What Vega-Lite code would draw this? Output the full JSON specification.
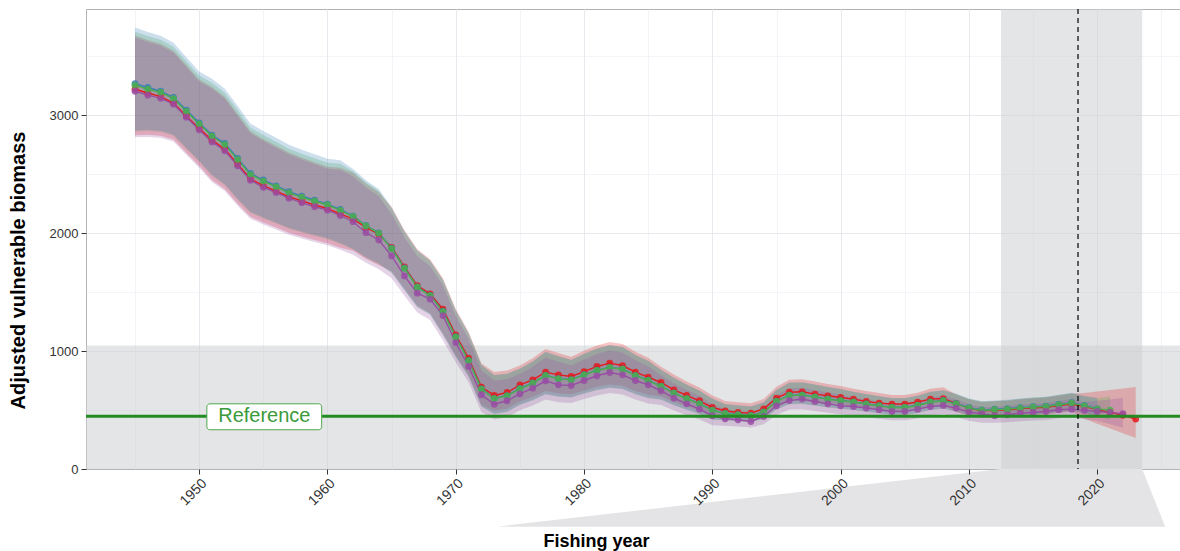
{
 "$schema": "https://vega.github.io/schema/vega-lite/v6.json",
 "width": 1094, "height": 460,
 "autosize": {"type": "none"},
 "padding": {"left": 86, "top": 9, "right": 0, "bottom": 82},
 "background": "white",
 "config": {"font": "Liberation Sans", "view": {"stroke": "#b3b3b3", "strokeWidth": 1}},
 "resolve": {"axis": {"x": "independent", "y": "independent"}},
 "datasets": {
  "d": [
{"yr":1945,"s":"R","m":3222,"lo":2831,"hi":3678},{"yr":1946,"s":"R","m":3190,"lo":2835,"hi":3640},{"yr":1947,"s":"R","m":3160,"lo":2827,"hi":3609},{"yr":1948,"s":"R","m":3105,"lo":2795,"hi":3549},{"yr":1949,"s":"R","m":2995,"lo":2683,"hi":3427},{"yr":1950,"s":"R","m":2890,"lo":2573,"hi":3305},{"yr":1951,"s":"R","m":2790,"lo":2453,"hi":3244},{"yr":1952,"s":"R","m":2715,"lo":2375,"hi":3159},{"yr":1953,"s":"R","m":2585,"lo":2251,"hi":3012},{"yr":1954,"s":"R","m":2462,"lo":2140,"hi":2865},{"yr":1955,"s":"R","m":2405,"lo":2092,"hi":2800},{"yr":1956,"s":"R","m":2358,"lo":2049,"hi":2743},{"yr":1957,"s":"R","m":2310,"lo":2005,"hi":2685},{"yr":1958,"s":"R","m":2275,"lo":1973,"hi":2642},{"yr":1959,"s":"R","m":2240,"lo":1944,"hi":2603},{"yr":1960,"s":"R","m":2210,"lo":1916,"hi":2565},{"yr":1961,"s":"R","m":2165,"lo":1877,"hi":2557},{"yr":1962,"s":"R","m":2120,"lo":1851,"hi":2514},{"yr":1963,"s":"R","m":2050,"lo":1782,"hi":2421},{"yr":1964,"s":"R","m":1992,"lo":1728,"hi":2348},{"yr":1965,"s":"R","m":1881,"lo":1679,"hi":2222},{"yr":1966,"s":"R","m":1715,"lo":1531,"hi":2025},{"yr":1967,"s":"R","m":1556,"lo":1387,"hi":1865},{"yr":1968,"s":"R","m":1486,"lo":1324,"hi":1780},{"yr":1969,"s":"R","m":1356,"lo":1151,"hi":1618},{"yr":1970,"s":"R","m":1138,"lo":966,"hi":1358},{"yr":1971,"s":"R","m":940,"lo":797,"hi":1165},{"yr":1972,"s":"R","m":695,"lo":544,"hi":896},{"yr":1973,"s":"R","m":624,"lo":494,"hi":823},{"yr":1974,"s":"R","m":649,"lo":512,"hi":835},{"yr":1975,"s":"R","m":714,"lo":572,"hi":878},{"yr":1976,"s":"R","m":757,"lo":611,"hi":939},{"yr":1977,"s":"R","m":822,"lo":662,"hi":1019},{"yr":1978,"s":"R","m":799,"lo":640,"hi":984},{"yr":1979,"s":"R","m":785,"lo":634,"hi":952},{"yr":1980,"s":"R","m":827,"lo":667,"hi":1003},{"yr":1981,"s":"R","m":870,"lo":697,"hi":1048},{"yr":1982,"s":"R","m":898,"lo":717,"hi":1078},{"yr":1983,"s":"R","m":878,"lo":706,"hi":1061},{"yr":1984,"s":"R","m":822,"lo":662,"hi":995},{"yr":1985,"s":"R","m":780,"lo":629,"hi":944},{"yr":1986,"s":"R","m":734,"lo":616,"hi":868},{"yr":1987,"s":"R","m":672,"lo":569,"hi":801},{"yr":1988,"s":"R","m":624,"lo":529,"hi":743},{"yr":1989,"s":"R","m":579,"lo":493,"hi":692},{"yr":1990,"s":"R","m":522,"lo":445,"hi":624},{"yr":1991,"s":"R","m":494,"lo":441,"hi":577},{"yr":1992,"s":"R","m":480,"lo":433,"hi":566},{"yr":1993,"s":"R","m":474,"lo":426,"hi":557},{"yr":1994,"s":"R","m":511,"lo":453,"hi":593},{"yr":1995,"s":"R","m":602,"lo":532,"hi":698},{"yr":1996,"s":"R","m":652,"lo":577,"hi":758},{"yr":1997,"s":"R","m":655,"lo":580,"hi":762},{"yr":1998,"s":"R","m":635,"lo":565,"hi":742},{"yr":1999,"s":"R","m":621,"lo":550,"hi":722},{"yr":2000,"s":"R","m":607,"lo":538,"hi":705},{"yr":2001,"s":"R","m":593,"lo":528,"hi":681},{"yr":2002,"s":"R","m":573,"lo":513,"hi":662},{"yr":2003,"s":"R","m":559,"lo":500,"hi":644},{"yr":2004,"s":"R","m":551,"lo":487,"hi":628},{"yr":2005,"s":"R","m":551,"lo":487,"hi":628},{"yr":2006,"s":"R","m":568,"lo":502,"hi":648},{"yr":2007,"s":"R","m":593,"lo":528,"hi":681},{"yr":2008,"s":"R","m":598,"lo":538,"hi":694},{"yr":2009,"s":"R","m":556,"lo":483,"hi":632},{"yr":2010,"s":"R","m":515,"lo":451,"hi":591},{"yr":2011,"s":"R","m":494,"lo":433,"hi":568},{"yr":2012,"s":"R","m":498,"lo":439,"hi":574},{"yr":2013,"s":"R","m":503,"lo":443,"hi":580},{"yr":2014,"s":"R","m":512,"lo":451,"hi":591},{"yr":2015,"s":"R","m":519,"lo":458,"hi":600},{"yr":2016,"s":"R","m":524,"lo":462,"hi":606},{"yr":2017,"s":"R","m":538,"lo":476,"hi":623},{"yr":2018,"s":"R","m":552,"lo":488,"hi":639},{"yr":2019,"s":"R","m":530,"lo":426,"hi":644},{"yr":2020,"s":"R","m":505,"lo":385,"hi":657},{"yr":2021,"s":"R","m":480,"lo":344,"hi":670},{"yr":2022,"s":"R","m":455,"lo":304,"hi":683},{"yr":2023,"s":"R","m":424,"lo":263,"hi":695},
{"yr":1945,"s":"B","m":3270,"lo":2874,"hi":3745},{"yr":1946,"s":"B","m":3237,"lo":2878,"hi":3707},{"yr":1947,"s":"B","m":3205,"lo":2870,"hi":3676},{"yr":1948,"s":"B","m":3152,"lo":2838,"hi":3616},{"yr":1949,"s":"B","m":3045,"lo":2726,"hi":3494},{"yr":1950,"s":"B","m":2937,"lo":2616,"hi":3372},{"yr":1951,"s":"B","m":2833,"lo":2496,"hi":3311},{"yr":1952,"s":"B","m":2763,"lo":2418,"hi":3226},{"yr":1953,"s":"B","m":2635,"lo":2294,"hi":3079},{"yr":1954,"s":"B","m":2508,"lo":2183,"hi":2932},{"yr":1955,"s":"B","m":2452,"lo":2135,"hi":2867},{"yr":1956,"s":"B","m":2403,"lo":2092,"hi":2810},{"yr":1957,"s":"B","m":2353,"lo":2048,"hi":2752},{"yr":1958,"s":"B","m":2316,"lo":2016,"hi":2709},{"yr":1959,"s":"B","m":2282,"lo":1987,"hi":2670},{"yr":1960,"s":"B","m":2248,"lo":1959,"hi":2632},{"yr":1961,"s":"B","m":2203,"lo":1920,"hi":2620},{"yr":1962,"s":"B","m":2146,"lo":1866,"hi":2545},{"yr":1963,"s":"B","m":2066,"lo":1797,"hi":2450},{"yr":1964,"s":"B","m":2004,"lo":1743,"hi":2375},{"yr":1965,"s":"B","m":1873,"lo":1667,"hi":2220},{"yr":1966,"s":"B","m":1706,"lo":1519,"hi":2020},{"yr":1967,"s":"B","m":1545,"lo":1375,"hi":1858},{"yr":1968,"s":"B","m":1474,"lo":1312,"hi":1772},{"yr":1969,"s":"B","m":1339,"lo":1139,"hi":1608},{"yr":1970,"s":"B","m":1122,"lo":954,"hi":1346},{"yr":1971,"s":"B","m":922,"lo":785,"hi":1153},{"yr":1972,"s":"B","m":680,"lo":532,"hi":884},{"yr":1973,"s":"B","m":600,"lo":469,"hi":798},{"yr":1974,"s":"B","m":623,"lo":487,"hi":810},{"yr":1975,"s":"B","m":683,"lo":547,"hi":853},{"yr":1976,"s":"B","m":731,"lo":586,"hi":914},{"yr":1977,"s":"B","m":795,"lo":637,"hi":994},{"yr":1978,"s":"B","m":767,"lo":615,"hi":959},{"yr":1979,"s":"B","m":759,"lo":609,"hi":927},{"yr":1980,"s":"B","m":801,"lo":642,"hi":978},{"yr":1981,"s":"B","m":838,"lo":672,"hi":1023},{"yr":1982,"s":"B","m":863,"lo":692,"hi":1053},{"yr":1983,"s":"B","m":849,"lo":681,"hi":1036},{"yr":1984,"s":"B","m":795,"lo":637,"hi":970},{"yr":1985,"s":"B","m":753,"lo":604,"hi":919},{"yr":1986,"s":"B","m":702,"lo":591,"hi":843},{"yr":1987,"s":"B","m":646,"lo":544,"hi":776},{"yr":1988,"s":"B","m":598,"lo":504,"hi":718},{"yr":1989,"s":"B","m":555,"lo":468,"hi":667},{"yr":1990,"s":"B","m":499,"lo":420,"hi":599},{"yr":1991,"s":"B","m":471,"lo":416,"hi":552},{"yr":1992,"s":"B","m":462,"lo":408,"hi":541},{"yr":1993,"s":"B","m":454,"lo":401,"hi":532},{"yr":1994,"s":"B","m":485,"lo":428,"hi":568},{"yr":1995,"s":"B","m":575,"lo":507,"hi":673},{"yr":1996,"s":"B","m":626,"lo":552,"hi":733},{"yr":1997,"s":"B","m":629,"lo":555,"hi":737},{"yr":1998,"s":"B","m":612,"lo":540,"hi":717},{"yr":1999,"s":"B","m":595,"lo":525,"hi":697},{"yr":2000,"s":"B","m":581,"lo":513,"hi":680},{"yr":2001,"s":"B","m":570,"lo":503,"hi":656},{"yr":2002,"s":"B","m":553,"lo":488,"hi":637},{"yr":2003,"s":"B","m":538,"lo":475,"hi":619},{"yr":2004,"s":"B","m":524,"lo":462,"hi":603},{"yr":2005,"s":"B","m":524,"lo":462,"hi":603},{"yr":2006,"s":"B","m":541,"lo":477,"hi":623},{"yr":2007,"s":"B","m":570,"lo":503,"hi":656},{"yr":2008,"s":"B","m":582,"lo":513,"hi":669},{"yr":2009,"s":"B","m":556,"lo":490,"hi":639},{"yr":2010,"s":"B","m":521,"lo":458,"hi":598},{"yr":2011,"s":"B","m":501,"lo":440,"hi":575},{"yr":2012,"s":"B","m":507,"lo":446,"hi":581},{"yr":2013,"s":"B","m":512,"lo":450,"hi":587},{"yr":2014,"s":"B","m":521,"lo":458,"hi":598},{"yr":2015,"s":"B","m":529,"lo":465,"hi":607},{"yr":2016,"s":"B","m":534,"lo":469,"hi":613},{"yr":2017,"s":"B","m":549,"lo":483,"hi":630},{"yr":2018,"s":"B","m":563,"lo":495,"hi":646},{"yr":2019,"s":"B","m":540,"lo":475,"hi":619},{"yr":2020,"s":"B","m":511,"lo":440,"hi":605},
{"yr":1945,"s":"G","m":3255,"lo":2864,"hi":3711},{"yr":1946,"s":"G","m":3222,"lo":2868,"hi":3673},{"yr":1947,"s":"G","m":3195,"lo":2860,"hi":3642},{"yr":1948,"s":"G","m":3142,"lo":2828,"hi":3582},{"yr":1949,"s":"G","m":3035,"lo":2716,"hi":3460},{"yr":1950,"s":"G","m":2928,"lo":2606,"hi":3338},{"yr":1951,"s":"G","m":2825,"lo":2486,"hi":3277},{"yr":1952,"s":"G","m":2752,"lo":2408,"hi":3192},{"yr":1953,"s":"G","m":2625,"lo":2284,"hi":3045},{"yr":1954,"s":"G","m":2498,"lo":2173,"hi":2898},{"yr":1955,"s":"G","m":2442,"lo":2125,"hi":2833},{"yr":1956,"s":"G","m":2393,"lo":2082,"hi":2776},{"yr":1957,"s":"G","m":2343,"lo":2038,"hi":2718},{"yr":1958,"s":"G","m":2306,"lo":2006,"hi":2675},{"yr":1959,"s":"G","m":2272,"lo":1977,"hi":2636},{"yr":1960,"s":"G","m":2240,"lo":1949,"hi":2598},{"yr":1961,"s":"G","m":2195,"lo":1910,"hi":2590},{"yr":1962,"s":"G","m":2141,"lo":1863,"hi":2526},{"yr":1963,"s":"G","m":2062,"lo":1794,"hi":2433},{"yr":1964,"s":"G","m":2000,"lo":1740,"hi":2360},{"yr":1965,"s":"G","m":1870,"lo":1664,"hi":2207},{"yr":1966,"s":"G","m":1703,"lo":1516,"hi":2010},{"yr":1967,"s":"G","m":1542,"lo":1372,"hi":1850},{"yr":1968,"s":"G","m":1471,"lo":1309,"hi":1765},{"yr":1969,"s":"G","m":1336,"lo":1136,"hi":1603},{"yr":1970,"s":"G","m":1119,"lo":951,"hi":1343},{"yr":1971,"s":"G","m":920,"lo":782,"hi":1150},{"yr":1972,"s":"G","m":678,"lo":529,"hi":881},{"yr":1973,"s":"G","m":598,"lo":466,"hi":795},{"yr":1974,"s":"G","m":621,"lo":484,"hi":807},{"yr":1975,"s":"G","m":680,"lo":544,"hi":850},{"yr":1976,"s":"G","m":729,"lo":583,"hi":911},{"yr":1977,"s":"G","m":793,"lo":634,"hi":991},{"yr":1978,"s":"G","m":765,"lo":612,"hi":956},{"yr":1979,"s":"G","m":757,"lo":606,"hi":924},{"yr":1980,"s":"G","m":799,"lo":639,"hi":975},{"yr":1981,"s":"G","m":836,"lo":669,"hi":1020},{"yr":1982,"s":"G","m":861,"lo":689,"hi":1050},{"yr":1983,"s":"G","m":847,"lo":678,"hi":1033},{"yr":1984,"s":"G","m":793,"lo":634,"hi":967},{"yr":1985,"s":"G","m":751,"lo":601,"hi":916},{"yr":1986,"s":"G","m":700,"lo":588,"hi":840},{"yr":1987,"s":"G","m":644,"lo":541,"hi":773},{"yr":1988,"s":"G","m":596,"lo":501,"hi":715},{"yr":1989,"s":"G","m":553,"lo":465,"hi":664},{"yr":1990,"s":"G","m":497,"lo":417,"hi":596},{"yr":1991,"s":"G","m":469,"lo":413,"hi":549},{"yr":1992,"s":"G","m":460,"lo":405,"hi":538},{"yr":1993,"s":"G","m":452,"lo":398,"hi":529},{"yr":1994,"s":"G","m":483,"lo":425,"hi":565},{"yr":1995,"s":"G","m":573,"lo":504,"hi":670},{"yr":1996,"s":"G","m":624,"lo":549,"hi":730},{"yr":1997,"s":"G","m":627,"lo":552,"hi":734},{"yr":1998,"s":"G","m":610,"lo":537,"hi":714},{"yr":1999,"s":"G","m":593,"lo":522,"hi":694},{"yr":2000,"s":"G","m":579,"lo":510,"hi":677},{"yr":2001,"s":"G","m":568,"lo":500,"hi":653},{"yr":2002,"s":"G","m":551,"lo":485,"hi":634},{"yr":2003,"s":"G","m":536,"lo":472,"hi":616},{"yr":2004,"s":"G","m":522,"lo":459,"hi":600},{"yr":2005,"s":"G","m":522,"lo":459,"hi":600},{"yr":2006,"s":"G","m":539,"lo":474,"hi":620},{"yr":2007,"s":"G","m":568,"lo":500,"hi":653},{"yr":2008,"s":"G","m":579,"lo":510,"hi":666},{"yr":2009,"s":"G","m":553,"lo":487,"hi":636},{"yr":2010,"s":"G","m":517,"lo":455,"hi":595},{"yr":2011,"s":"G","m":497,"lo":437,"hi":572},{"yr":2012,"s":"G","m":503,"lo":443,"hi":578},{"yr":2013,"s":"G","m":508,"lo":447,"hi":584},{"yr":2014,"s":"G","m":517,"lo":455,"hi":595},{"yr":2015,"s":"G","m":525,"lo":462,"hi":604},{"yr":2016,"s":"G","m":530,"lo":466,"hi":610},{"yr":2017,"s":"G","m":545,"lo":480,"hi":627},{"yr":2018,"s":"G","m":559,"lo":492,"hi":643},{"yr":2019,"s":"G","m":536,"lo":472,"hi":616},{"yr":2020,"s":"G","m":508,"lo":440,"hi":600},{"yr":2021,"s":"G","m":500,"lo":420,"hi":615},
{"yr":1945,"s":"P","m":3205,"lo":2814,"hi":3661},{"yr":1946,"s":"P","m":3172,"lo":2818,"hi":3623},{"yr":1947,"s":"P","m":3145,"lo":2810,"hi":3592},{"yr":1948,"s":"P","m":3095,"lo":2778,"hi":3532},{"yr":1949,"s":"P","m":2985,"lo":2666,"hi":3410},{"yr":1950,"s":"P","m":2878,"lo":2556,"hi":3288},{"yr":1951,"s":"P","m":2775,"lo":2436,"hi":3227},{"yr":1952,"s":"P","m":2700,"lo":2358,"hi":3142},{"yr":1953,"s":"P","m":2572,"lo":2234,"hi":2995},{"yr":1954,"s":"P","m":2450,"lo":2123,"hi":2848},{"yr":1955,"s":"P","m":2390,"lo":2075,"hi":2783},{"yr":1956,"s":"P","m":2345,"lo":2032,"hi":2726},{"yr":1957,"s":"P","m":2298,"lo":1988,"hi":2668},{"yr":1958,"s":"P","m":2260,"lo":1956,"hi":2625},{"yr":1959,"s":"P","m":2225,"lo":1927,"hi":2586},{"yr":1960,"s":"P","m":2196,"lo":1899,"hi":2548},{"yr":1961,"s":"P","m":2150,"lo":1860,"hi":2540},{"yr":1962,"s":"P","m":2098,"lo":1818,"hi":2481},{"yr":1963,"s":"P","m":2005,"lo":1749,"hi":2388},{"yr":1964,"s":"P","m":1943,"lo":1695,"hi":2315},{"yr":1965,"s":"P","m":1808,"lo":1619,"hi":2162},{"yr":1966,"s":"P","m":1638,"lo":1471,"hi":1965},{"yr":1967,"s":"P","m":1492,"lo":1327,"hi":1805},{"yr":1968,"s":"P","m":1441,"lo":1264,"hi":1720},{"yr":1969,"s":"P","m":1302,"lo":1091,"hi":1558},{"yr":1970,"s":"P","m":1073,"lo":906,"hi":1298},{"yr":1971,"s":"P","m":870,"lo":737,"hi":1105},{"yr":1972,"s":"P","m":630,"lo":484,"hi":836},{"yr":1973,"s":"P","m":549,"lo":421,"hi":750},{"yr":1974,"s":"P","m":579,"lo":439,"hi":762},{"yr":1975,"s":"P","m":638,"lo":499,"hi":805},{"yr":1976,"s":"P","m":686,"lo":538,"hi":866},{"yr":1977,"s":"P","m":748,"lo":589,"hi":946},{"yr":1978,"s":"P","m":714,"lo":567,"hi":911},{"yr":1979,"s":"P","m":708,"lo":561,"hi":879},{"yr":1980,"s":"P","m":751,"lo":594,"hi":930},{"yr":1981,"s":"P","m":791,"lo":624,"hi":975},{"yr":1982,"s":"P","m":819,"lo":644,"hi":1005},{"yr":1983,"s":"P","m":799,"lo":633,"hi":988},{"yr":1984,"s":"P","m":751,"lo":589,"hi":922},{"yr":1985,"s":"P","m":714,"lo":556,"hi":871},{"yr":1986,"s":"P","m":664,"lo":543,"hi":795},{"yr":1987,"s":"P","m":601,"lo":496,"hi":728},{"yr":1988,"s":"P","m":553,"lo":456,"hi":670},{"yr":1989,"s":"P","m":508,"lo":420,"hi":619},{"yr":1990,"s":"P","m":452,"lo":372,"hi":551},{"yr":1991,"s":"P","m":426,"lo":368,"hi":504},{"yr":1992,"s":"P","m":418,"lo":360,"hi":493},{"yr":1993,"s":"P","m":403,"lo":353,"hi":484},{"yr":1994,"s":"P","m":446,"lo":380,"hi":520},{"yr":1995,"s":"P","m":536,"lo":459,"hi":625},{"yr":1996,"s":"P","m":581,"lo":504,"hi":685},{"yr":1997,"s":"P","m":593,"lo":507,"hi":689},{"yr":1998,"s":"P","m":573,"lo":492,"hi":669},{"yr":1999,"s":"P","m":553,"lo":477,"hi":649},{"yr":2000,"s":"P","m":536,"lo":465,"hi":632},{"yr":2001,"s":"P","m":530,"lo":455,"hi":608},{"yr":2002,"s":"P","m":517,"lo":440,"hi":589},{"yr":2003,"s":"P","m":503,"lo":427,"hi":571},{"yr":2004,"s":"P","m":488,"lo":414,"hi":555},{"yr":2005,"s":"P","m":488,"lo":414,"hi":555},{"yr":2006,"s":"P","m":508,"lo":429,"hi":575},{"yr":2007,"s":"P","m":530,"lo":455,"hi":608},{"yr":2008,"s":"P","m":539,"lo":465,"hi":621},{"yr":2009,"s":"P","m":517,"lo":442,"hi":591},{"yr":2010,"s":"P","m":483,"lo":410,"hi":550},{"yr":2011,"s":"P","m":469,"lo":392,"hi":527},{"yr":2012,"s":"P","m":452,"lo":393,"hi":528},{"yr":2013,"s":"P","m":460,"lo":397,"hi":534},{"yr":2014,"s":"P","m":474,"lo":405,"hi":545},{"yr":2015,"s":"P","m":480,"lo":412,"hi":554},{"yr":2016,"s":"P","m":488,"lo":416,"hi":560},{"yr":2017,"s":"P","m":503,"lo":430,"hi":577},{"yr":2018,"s":"P","m":508,"lo":442,"hi":593},{"yr":2019,"s":"P","m":497,"lo":422,"hi":566},{"yr":2020,"s":"P","m":488,"lo":410,"hi":580},{"yr":2021,"s":"P","m":480,"lo":380,"hi":590},{"yr":2022,"s":"P","m":469,"lo":350,"hi":604}
  ],
  "trap": [
   {"tx": 1973.2, "tt": -489, "tb": -489},
   {"tx": 2012.5, "tt": 0, "tb": -489},
   {"tx": 2023.5, "tt": 0, "tb": -489},
   {"tx": 2025.3, "tt": -489, "tb": -489}
  ]
 },
 "layer": [
  {
   "data": {"name": "trap"},
   "mark": {"type": "area", "fill": "#e4e4e6", "clip": false, "opacity": 1},
   "encoding": {
    "x": {"field": "tx", "type": "quantitative", "scale": {"domain": [1941.18, 2026.45], "nice": false, "zero": false}, "axis": null},
    "y": {"field": "tt", "type": "quantitative", "scale": {"domain": [0, 3903], "nice": false, "zero": false}, "axis": null, "stack": null},
    "y2": {"field": "tb"}
   }
  },
  {
   "data": {"values": [{}]},
   "mark": {"type": "rect", "fill": "#cecfd2", "opacity": 0.55, "clip": true},
   "encoding": {
    "x": {"datum": 1930, "type": "quantitative",
     "axis": {"orient": "bottom", "values": [1945,1950,1955,1960,1965,1970,1975,1980,1985,1990,1995,2000,2005,2010,2015,2020,2025], "grid": true, "gridColor": "#e7e9ee", "gridWidth": {"condition": {"test": "datum.value % 10 === 0", "value": 1}, "value": 0.5}, "labels": false, "ticks": false, "domain": false, "title": null, "zindex": 0}},
    "x2": {"datum": 2040},
    "y": {"datum": 0, "type": "quantitative",
     "axis": {"orient": "left", "values": [500,1000,1500,2000,2500,3000,3500], "grid": true, "gridColor": "#e7e9ee", "gridWidth": {"condition": {"test": "datum.value % 1000 === 0", "value": 1}, "value": 0.5}, "labels": false, "ticks": false, "domain": false, "title": null, "zindex": 0}},
    "y2": {"datum": 1047}
   }
  },
  {
   "data": {"values": [{}]},
   "mark": {"type": "rect", "fill": "#cecfd2", "opacity": 0.55, "clip": true},
   "encoding": {
    "x": {"datum": 2012.5, "type": "quantitative", "axis": null},
    "x2": {"datum": 2023.5},
    "y": {"datum": 0, "type": "quantitative", "axis": null},
    "y2": {"datum": 3903}
   }
  },
  {
   "data": {"name": "d"},
   "transform": [{"filter": "datum.s === 'R'"}],
   "mark": {"type": "area", "fill": "#e41a1c", "fillOpacity": 0.25, "clip": true},
   "encoding": {
    "x": {"field": "yr", "type": "quantitative", "axis": null},
    "y": {"field": "lo", "type": "quantitative", "axis": null, "stack": null},
    "y2": {"field": "hi"}
   }
  },
  {
   "data": {"name": "d"},
   "transform": [{"filter": "datum.s === 'G'"}],
   "mark": {"type": "area", "fill": "#4daf4a", "fillOpacity": 0.25, "clip": true},
   "encoding": {
    "x": {"field": "yr", "type": "quantitative", "axis": null},
    "y": {"field": "lo", "type": "quantitative", "axis": null, "stack": null},
    "y2": {"field": "hi"}
   }
  },
  {
   "data": {"name": "d"},
   "transform": [{"filter": "datum.s === 'B'"}],
   "mark": {"type": "area", "fill": "#377eb8", "fillOpacity": 0.25, "clip": true},
   "encoding": {
    "x": {"field": "yr", "type": "quantitative", "axis": null},
    "y": {"field": "lo", "type": "quantitative", "axis": null, "stack": null},
    "y2": {"field": "hi"}
   }
  },
  {
   "data": {"name": "d"},
   "transform": [{"filter": "datum.s === 'P'"}],
   "mark": {"type": "area", "fill": "#984ea3", "fillOpacity": 0.25, "clip": true},
   "encoding": {
    "x": {"field": "yr", "type": "quantitative", "axis": null},
    "y": {"field": "lo", "type": "quantitative", "axis": null, "stack": null},
    "y2": {"field": "hi"}
   }
  },
  {
   "data": {"name": "d"},
   "mark": {"type": "line", "strokeWidth": 1.4, "clip": true},
   "encoding": {
    "x": {"field": "yr", "type": "quantitative", "axis": null},
    "y": {"field": "m", "type": "quantitative", "axis": null},
    "color": {"field": "s", "type": "nominal", "scale": {"domain": ["R","B","G","P"], "range": ["#e41a1c","#377eb8","#4daf4a","#984ea3"]}, "legend": null}
   }
  },
  {
   "data": {"name": "d"},
   "mark": {"type": "circle", "size": 46, "opacity": 0.85, "clip": true},
   "encoding": {
    "x": {"field": "yr", "type": "quantitative",
     "axis": {"orient": "bottom", "values": [1950,1960,1970,1980,1990,2000,2010,2020], "format": "d", "grid": false, "domain": false, "tickColor": "#333333", "tickSize": 5, "tickWidth": 1, "labelAngle": -45, "labelAlign": "right", "labelBaseline": "top", "labelFontSize": 14, "labelColor": "#333333", "labelPadding": 2, "title": "Fishing year", "titleFontSize": 18, "titleFontWeight": "bold", "titleColor": "#000000", "titleX": 510, "titleY": 72, "titleBaseline": "middle", "titleAlign": "center", "zindex": 1}},
    "y": {"field": "m", "type": "quantitative",
     "axis": {"orient": "left", "values": [0,1000,2000,3000], "format": "d", "grid": false, "domain": false, "tickColor": "#333333", "tickSize": 5, "tickWidth": 1, "labelFontSize": 13, "labelColor": "#333333", "labelPadding": 3, "title": "Adjusted vulnerable biomass", "titleFontSize": 20, "titleFontWeight": "bold", "titleColor": "#000000", "titleX": -68, "titleY": 261, "titleAngle": -90, "titleBaseline": "middle", "titleAlign": "center", "zindex": 1}},
    "color": {"field": "s", "type": "nominal", "legend": null}
   }
  },
  {
   "data": {"values": [{}]},
   "mark": {"type": "rule", "color": "#228b22", "strokeWidth": 3, "clip": true},
   "encoding": {"y": {"datum": 447, "type": "quantitative", "axis": null}}
  },
  {
   "data": {"values": [{}]},
   "mark": {"type": "rule", "color": "#000000", "strokeWidth": 1.2, "strokeDash": [5, 4], "clip": true},
   "encoding": {"x": {"datum": 2018.5, "type": "quantitative", "axis": null}}
  },
  {
   "data": {"values": [{}]},
   "mark": {"type": "rect", "fill": "white", "stroke": "#4fa84f", "strokeWidth": 1, "cornerRadius": 3},
   "encoding": {
    "x": {"datum": 1950.6, "type": "quantitative", "axis": null},
    "x2": {"datum": 1959.55},
    "y": {"datum": 333, "type": "quantitative", "axis": null},
    "y2": {"datum": 553}
   }
  },
  {
   "data": {"values": [{}]},
   "mark": {"type": "text", "text": "Reference", "fontSize": 20, "color": "#3a9a3a", "align": "center", "baseline": "middle", "font": "Liberation Sans"},
   "encoding": {
    "x": {"datum": 1955.08, "type": "quantitative", "axis": null},
    "y": {"datum": 447, "type": "quantitative", "axis": null}
   }
  }
 ]
}
